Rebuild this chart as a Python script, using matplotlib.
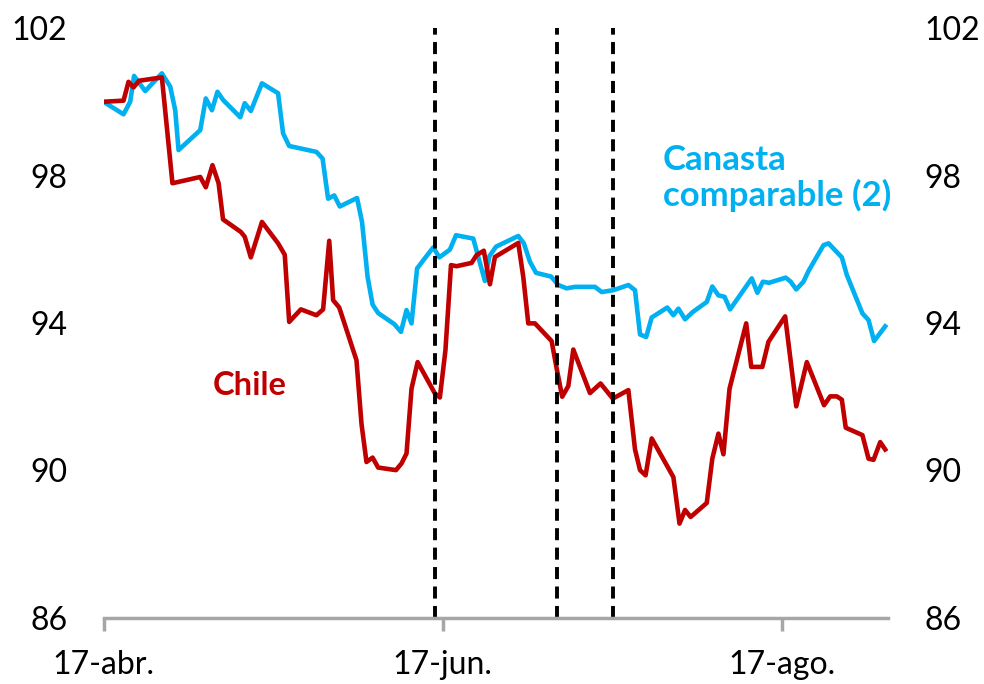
import matplotlib.pyplot as plt

plt.rcParams['font.family'] = ['Lato', 'DejaVu Sans']

# Dias desde el 17-abr. (eje x) y valores de cada serie
dias_canasta = [0, 3.6, 4.8, 5.5, 7.5, 10.5, 12.0, 12.9, 13.5, 17.4, 18.4, 19.5, 20.5, 21.5,
                24.6, 25.4, 26.5, 28.5, 31.4, 32.3, 33.4, 38.3, 39.4, 40.4, 41.5, 42.5,
                45.6, 46.5, 47.5, 48.4, 49.4, 52.3, 53.5, 54.5, 55.4, 56.4, 59.3, 60.4,
                62.3, 63.4, 66.5, 68.6, 69.4, 70.6, 74.6, 75.6, 76.7, 77.8, 80.5, 81.8,
                83.3, 84.8, 88.4, 89.6, 91.7, 94.4, 95.6, 96.5, 97.6, 98.6, 101.4, 102.5,
                103.4, 104.6, 106.0, 108.5, 109.5, 110.6, 111.7, 112.7, 116.6, 117.6,
                118.6, 119.7, 122.7, 123.6, 124.6, 125.9, 126.8, 129.5, 130.4, 132.8,
                133.7, 136.5, 137.6, 138.6, 140.6]
canasta = [100.00, 99.66, 100.00, 100.70, 100.29, 100.77, 100.41, 99.77, 98.69, 99.23,
           100.09, 99.77, 100.27, 100.05, 99.58, 99.96, 99.75, 100.50, 100.23, 99.14,
           98.80, 98.64, 98.46, 97.37, 97.46, 97.16, 97.39, 96.74, 95.25, 94.50, 94.27,
           93.97, 93.76, 94.35, 93.99, 95.48, 96.05, 95.78, 95.99, 96.38, 96.29, 95.14,
           95.81, 96.07, 96.36, 96.16, 95.66, 95.36, 95.26, 95.03, 94.94, 94.98, 94.98,
           94.84, 94.89, 95.03, 94.89, 93.69, 93.62, 94.15, 94.42, 94.21, 94.39, 94.10,
           94.30, 94.57, 94.99, 94.75, 94.71, 94.37, 95.21, 94.82, 95.12, 95.09, 95.23,
           95.12, 94.91, 95.12, 95.41, 96.11, 96.16, 95.78, 95.30, 94.26, 94.08, 93.51,
           93.91]

dias_chile = [0, 3.6, 4.5, 5.4, 6.4, 10.5, 12.4, 17.4, 18.4, 19.6, 20.7, 21.5, 24.7, 25.4,
              26.5, 28.5, 31.4, 32.6, 33.4, 35.5, 38.3, 39.5, 40.6, 41.3, 42.4, 45.5, 46.4,
              47.3, 48.4, 49.4, 52.6, 53.6, 54.5, 55.4, 56.5, 59.6, 60.5, 61.5, 62.5, 63.5,
              66.2, 67.1, 68.4, 69.5, 70.4, 74.6, 75.5, 76.4, 77.6, 80.6, 81.5, 82.5, 83.6,
              84.5, 87.5, 89.4, 91.6, 94.4, 95.6, 96.5, 97.5, 98.6, 102.5, 103.6, 104.6,
              105.6, 108.5, 109.5, 110.6, 111.5, 112.6, 115.6, 116.5, 118.5, 119.6, 122.6,
              124.6, 126.5, 129.6, 130.7, 131.9, 132.8, 133.5, 136.5, 137.6, 138.5, 139.7,
              140.6]
chile = [100.00, 100.03, 100.54, 100.39, 100.57, 100.66, 97.79, 97.96, 97.68, 98.28, 97.79,
         96.81, 96.47, 96.34, 95.78, 96.74, 96.16, 95.85, 94.03, 94.37, 94.21, 94.37, 96.23,
         94.62, 94.42, 92.99, 91.27, 90.23, 90.35, 90.08, 90.01, 90.19, 90.46, 92.22, 92.94,
         92.09, 91.98, 93.26, 95.57, 95.54, 95.63, 95.84, 95.96, 95.05, 95.79, 96.17, 95.25,
         93.99, 93.99, 93.51, 92.77, 92.00, 92.29, 93.28, 92.10, 92.36, 91.95, 92.18, 90.57,
         90.01, 89.87, 90.87, 89.82, 88.56, 88.93, 88.74, 89.12, 90.32, 91.00, 90.44, 92.22,
         93.99, 92.81, 92.81, 93.49, 94.18, 91.74, 92.94, 91.77, 92.01, 92.01, 91.92, 91.16,
         90.96, 90.32, 90.29, 90.77, 90.57]

# Fechas de eventos (lineas verticales)
eventos = [59.6, 81.6, 91.7]

ticks_x = [0, 61, 122]
etiquetas_x = ['17-abr.', '17-jun.', '17-ago.']
ticks_y = [86, 90, 94, 98, 102]

azul = '#00B0F0'
rojo = '#C00000'

fig = plt.figure(figsize=(9.84, 6.84), dpi=100)
ax = fig.add_axes([103.5 / 984, 66 / 684, 784.5 / 984, 590 / 684])

ax.plot(dias_canasta, canasta, color=azul, linewidth=3.3)
ax.plot(dias_chile, chile, color=rojo, linewidth=3.3)

for e in eventos:
    ax.axvline(e, color='black', linewidth=2.8, linestyle=(0, (3.1, 1.9)))

ax.set_xlim(0, 141.1)
ax.set_ylim(86, 102)

# Ejes al estilo Excel
for lado in ['top', 'left', 'right']:
    ax.spines[lado].set_visible(False)
ax.spines['bottom'].set_color('#A6A6A6')
ax.spines['bottom'].set_linewidth(2.5)

ax.set_xticks(ticks_x)
ax.set_xticklabels(etiquetas_x)
ax.tick_params(axis='x', direction='out', length=9, width=2.5, color='#A6A6A6',
               labelsize=23, pad=14)

ax.set_yticks(ticks_y)
ax.tick_params(axis='y', length=0, labelsize=23, pad=26,
               labelleft=True, labelright=True)

ax.text(0.713, 0.76, 'Canasta', transform=ax.transAxes, color=azul,
        fontsize=25, fontweight='bold', ha='left', va='baseline')
ax.text(0.713, 0.698, 'comparable (2)', transform=ax.transAxes, color=azul,
        fontsize=25, fontweight='bold', ha='left', va='baseline')
ax.text(0.139, 0.378, 'Chile', transform=ax.transAxes, color=rojo,
        fontsize=23.5, fontweight='bold', ha='left', va='baseline')

plt.savefig('out.png', dpi=100)
